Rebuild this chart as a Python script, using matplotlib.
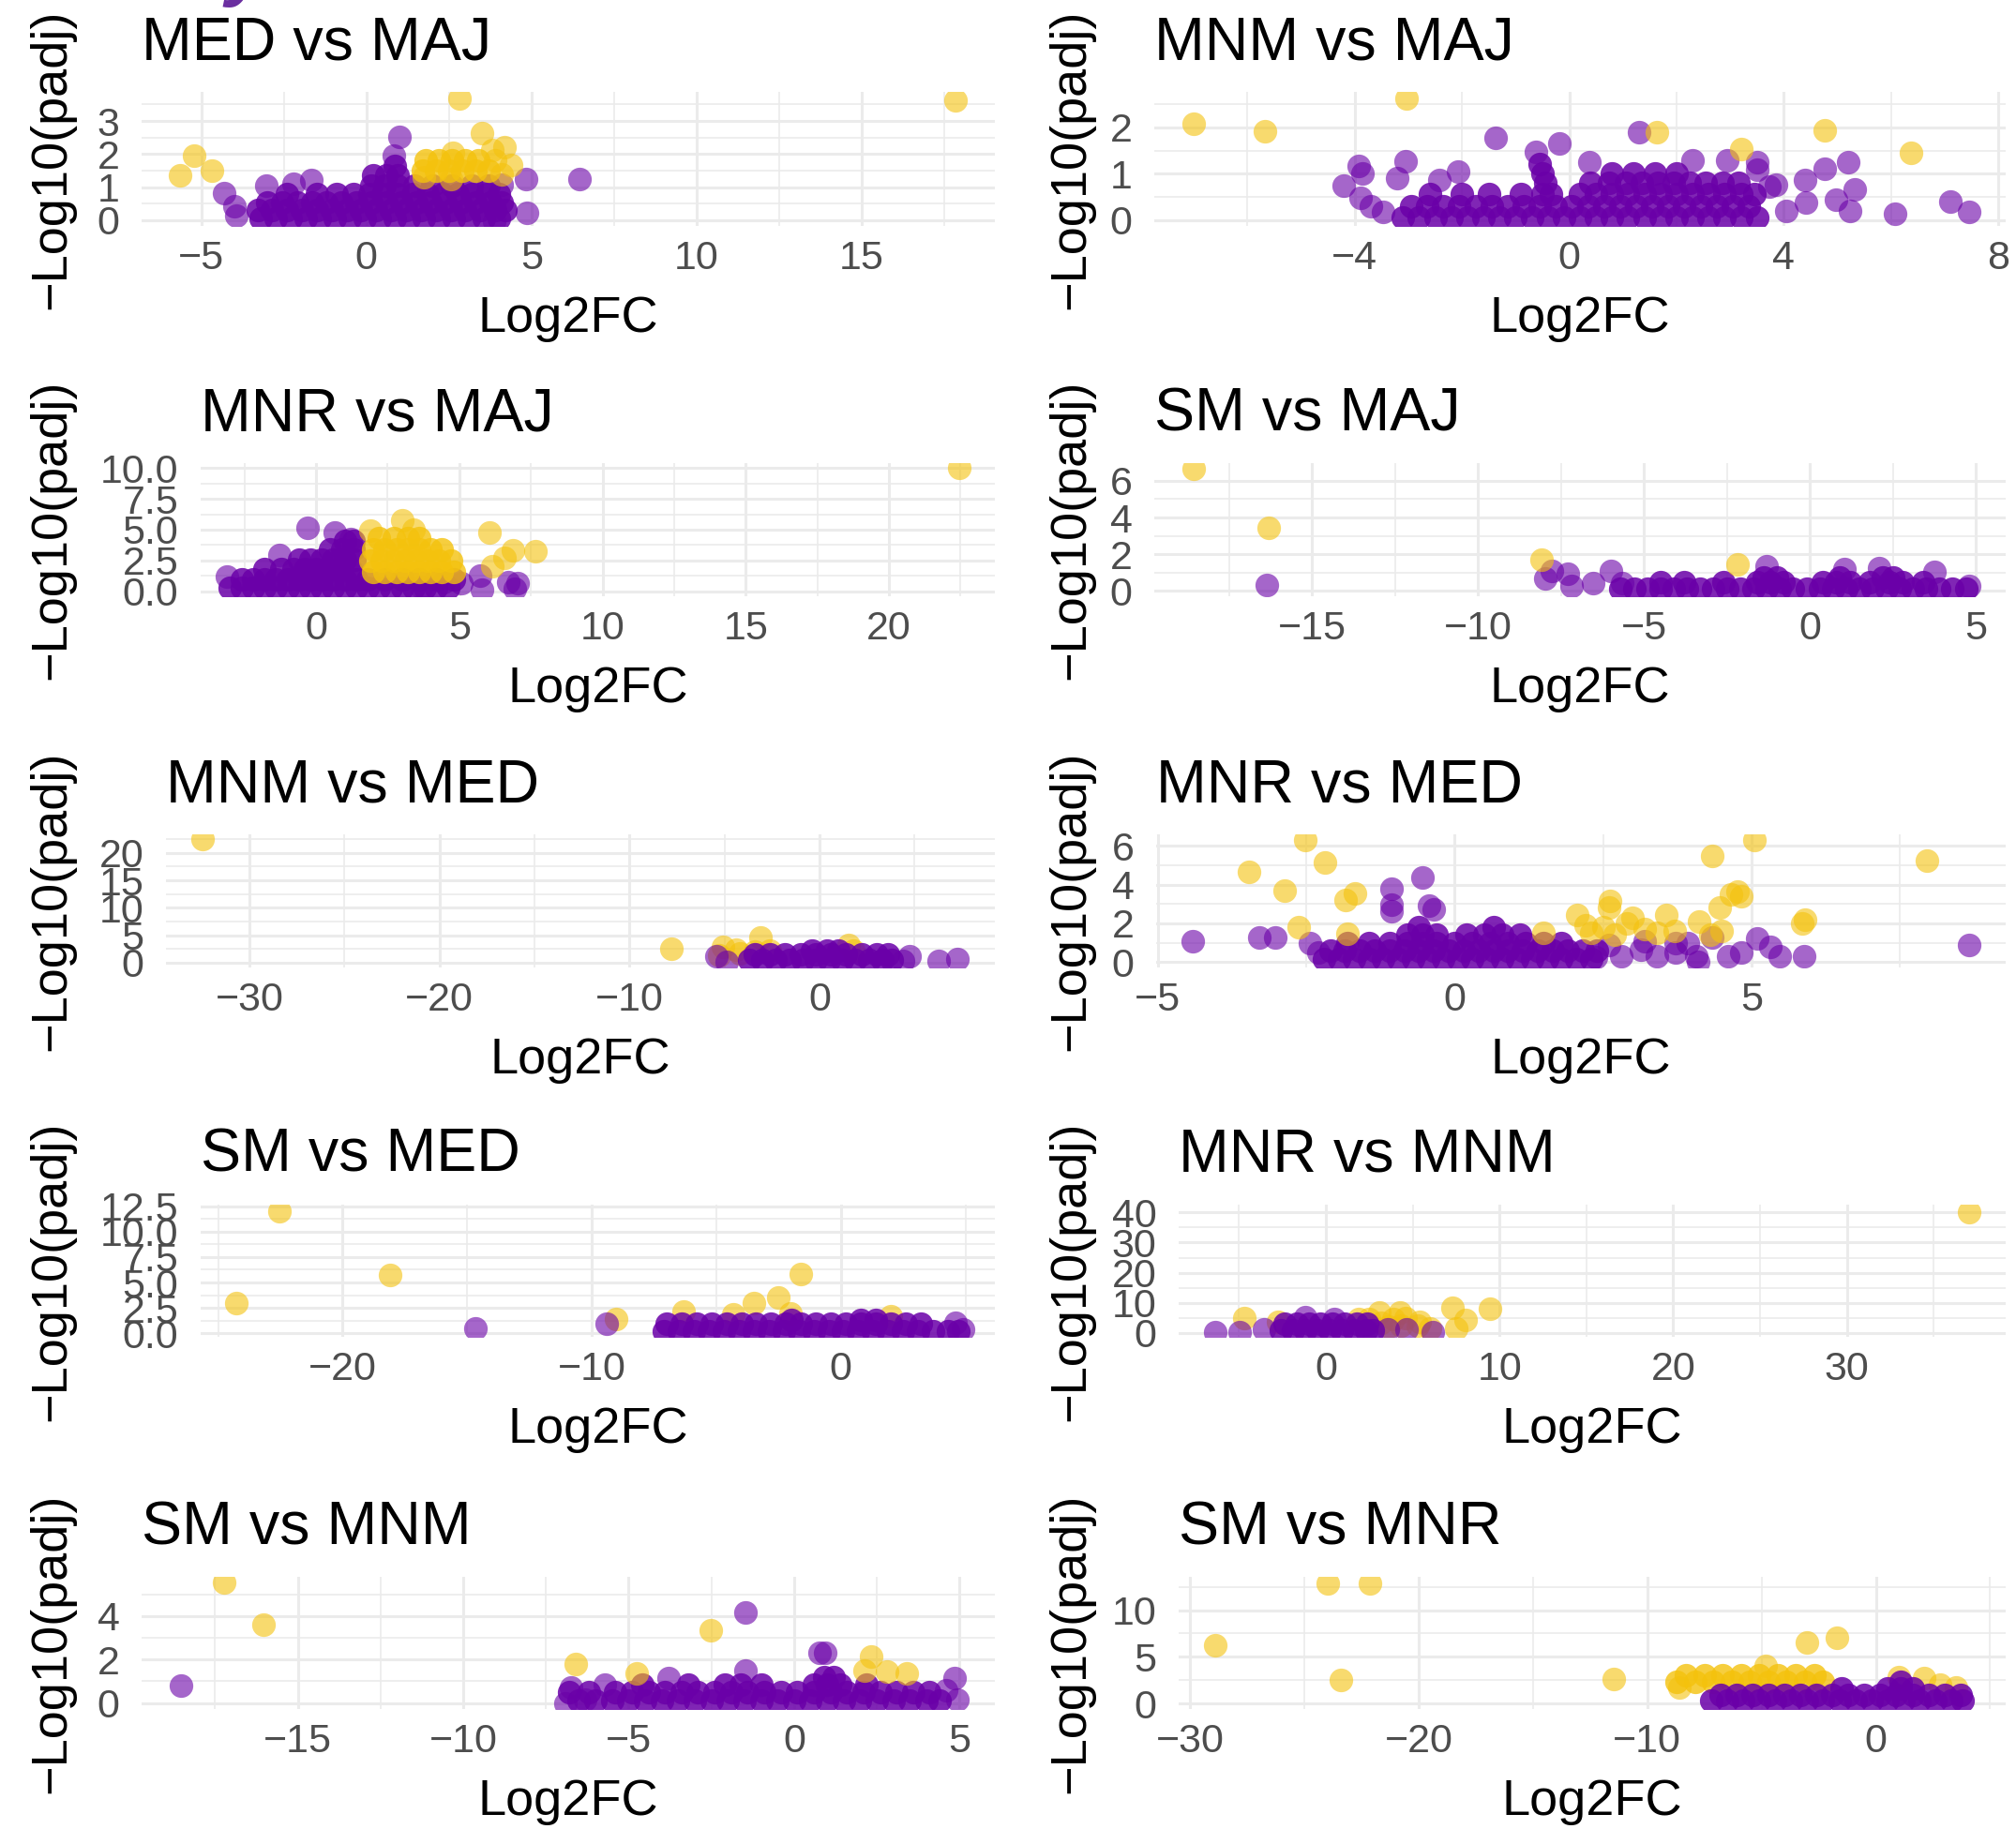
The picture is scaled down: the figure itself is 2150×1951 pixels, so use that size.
import matplotlib
matplotlib.use("Agg")
import matplotlib.pyplot as plt

plt.rcParams['font.family'] = ['Liberation Sans', 'DejaVu Sans']

# ---- data: (Log2FC, -Log10(padj)) ----
# dense clouds are given as rows {y: [x, ...]}, scattered genes as (x, y) pairs

# MED vs MAJ
med_maj_ns_rows = {
    0.05: [-3.2, -2.75, -2.3, -1.85, -1.4, -0.95, -0.5, -0.05, 0.4, 0.85, 1.3, 1.75, 2.2, 2.65, 3.1, 3.55, 4.0],
    0.3: [-3.3, -2.85, -2.4, -1.95, -1.5, -1.05, -0.6, -0.15, 0.3, 0.75, 1.2, 1.65, 2.1, 2.55, 3.0, 3.45, 3.9, 4.2],
    0.55: [-3.0, -2.55, -2.1, -1.65, -1.2, -0.75, -0.3, 0.15, 0.6, 1.05, 1.5, 1.95, 2.4, 2.85, 3.3, 3.75, 4.1],
    0.8: [-2.4, -1.5, -0.9, -0.4, 0.1, 0.5, 0.95, 1.4, 1.85, 2.3, 2.75, 3.2, 3.65, 4.0],
    1.05: [0.15, 0.55, 0.95, 1.45, 2.0, 2.6, 3.2, 3.7],
    1.35: [0.2, 0.6, 0.95],
    1.65: [0.85],
}
med_maj_ns_pts = [(1.01, 2.51), (0.82, 1.94), (6.47, 1.25), (4.87, 0.24), (4.83, 1.26), (4.1, 1.09),
                  (-4.32, 0.82), (-3.99, 0.43), (-3.95, 0.15), (-3.02, 1.04), (-2.2, 1.1), (-1.66, 1.23),
                  (3.88, -0.02)]
med_maj_sig_rows = {
    1.5: [1.7, 2.1, 2.5, 2.9, 3.3, 3.7],
    1.8: [1.8, 2.2, 2.6, 3.0, 3.4],
}
med_maj_sig_pts = [(2.82, 3.69), (17.86, 3.63), (3.5, 2.62), (-5.22, 1.94), (-5.65, 1.37), (-4.68, 1.51),
                   (4.18, 2.22), (3.8, 2.13), (4.38, 1.66), (2.62, 2.04), (3.9, 1.8), (4.1, 1.4),
                   (2.55, 1.25), (1.75, 1.3)]

# MNM vs MAJ
mnm_maj_ns_rows = {
    0.05: [-3.1, -2.8, -2.5, -2.2, -1.9, -1.6, -1.3, -1.0, -0.7, -0.4, -0.1, 0.2, 0.5, 0.8, 1.1, 1.4, 1.7,
           2.0, 2.3, 2.6, 2.9, 3.2, 3.5],
    0.3: [-2.95, -2.65, -2.35, -2.05, -1.75, -1.45, -1.15, -0.85, -0.55, -0.25, 0.05, 0.35, 0.65, 0.95,
          1.25, 1.55, 1.85, 2.15, 2.45, 2.75, 3.05, 3.35],
    0.55: [-2.6, -2.0, -1.5, -0.9, -0.5, -0.35, 0.2, 0.5, 0.8, 1.1, 1.4, 1.7, 2.0, 2.3, 2.6, 2.9, 3.2, 3.45],
    0.8: [-0.45, 0.4, 0.75, 1.05, 1.35, 1.65, 1.95, 2.25, 2.55, 2.85, 3.15],
    1.0: [-0.5, 0.8, 1.2, 1.6, 2.0],
    1.2: [-0.55],
}
mnm_maj_ns_pts = [(-1.38, 1.78), (-0.19, 1.66), (1.31, 1.89), (-0.63, 1.48), (-3.06, 1.26), (-3.93, 1.17),
                  (-3.85, 1.01), (-4.21, 0.74), (-3.9, 0.47), (-3.48, 0.17), (-3.21, 0.91), (-2.07, 1.04),
                  (-2.43, 0.87), (0.38, 1.25), (2.30, 1.28), (2.94, 1.28), (3.5, 1.25), (3.5, 1.08),
                  (3.86, 0.77), (4.4, 0.87), (4.76, 1.11), (5.21, 1.25), (5.33, 0.67), (4.98, 0.44),
                  (5.24, 0.2), (4.42, 0.37), (4.04, 0.2), (6.08, 0.13), (7.10, 0.40), (7.46, 0.17),
                  (3.74, 0.73), (-3.7, 0.3)]
mnm_maj_sig_rows = {}
mnm_maj_sig_pts = [(-7.01, 2.09), (-5.67, 1.92), (-3.03, 2.63), (1.64, 1.89), (3.2, 1.53), (4.76, 1.93),
                   (6.38, 1.45)]

# MNR vs MAJ
mnr_maj_ns_rows = {
    0.3: [-3.0, -2.6, -2.2, -1.8, -1.4, -1.0, -0.6, -0.2, 0.2, 0.6, 1.0, 1.4, 1.8, 2.2, 2.6, 3.0, 3.4, 3.8,
          4.2, 4.6],
    1.0: [-2.6, -2.2, -1.8, -1.4, -1.0, -0.6, -0.2, 0.2, 0.6, 1.0, 1.4, 1.8, 2.4, 3.0, 3.6, 4.2, 4.8],
    1.8: [-1.8, -1.2, -0.8, -0.4, 0.0, 0.4, 0.8, 1.2],
    2.6: [-0.6, -0.2, 0.2, 0.6, 1.0, 1.35],
    3.4: [0.5, 0.9, 1.3],
    4.1: [1.0, 1.3],
}
mnr_maj_ns_pts = [(-0.3, 5.13), (0.64, 4.74), (-1.27, 2.95), (1.2, 4.23), (5.72, 1.28), (5.07, 0.64),
                  (5.8, 0.13), (6.7, 0.77), (7.04, 0.64), (6.93, 0.23), (4.45, 0.77), (3.67, 0.33),
                  (-3.1, 1.2)]
mnr_maj_sig_rows = {
    1.6: [2.0, 2.4, 2.8, 3.2, 3.6, 4.0, 4.4, 4.8],
    2.5: [1.9, 2.3, 2.7, 3.1, 3.5, 3.9, 4.3, 4.7],
    3.4: [2.0, 2.4, 2.8, 3.2, 3.6, 4.0, 4.4],
    4.3: [2.2, 2.7, 3.2, 3.6],
}
mnr_maj_sig_pts = [(22.45, 10.0), (3.0, 5.77), (6.07, 4.74), (7.66, 3.28), (6.87, 3.33), (6.59, 2.69),
                   (6.14, 2.05), (1.9, 4.9), (3.4, 5.0)]

# SM vs MAJ
sm_maj_ns_rows = {
    0.1: [-5.7, -5.3, -4.9, -4.5, -4.1, -3.7, -3.3, -2.9, -2.5, -2.1, -1.7, -1.3, -0.9, -0.5, -0.1, 0.3,
          0.7, 1.1, 1.5, 1.9, 2.3, 2.7, 3.1, 3.5, 3.9, 4.3, 4.7],
    0.45: [-4.5, -3.8, -2.6, -1.6, -1.2, -0.8, 0.4, 0.8, 1.2, 1.8, 2.4, 2.8, 3.4],
    0.7: [-1.4, -1.0, 0.9, 2.2, 2.5],
}
sm_maj_ns_pts = [(-16.35, 0.29), (-7.96, 0.68), (-7.78, 1.1), (-7.3, 0.94), (-7.17, 0.26), (-6.53, 0.43),
                 (-5.99, 1.1), (-5.66, 0.43), (-1.3, 1.36), (1.03, 1.19), (2.09, 1.22), (3.74, 1.02),
                 (4.8, 0.26)]
sm_maj_sig_rows = {}
sm_maj_sig_pts = [(-18.57, 6.65), (-16.31, 3.44), (-8.08, 1.70), (-2.17, 1.45)]

# MNM vs MED
mnm_med_ns_rows = {
    0.5: [-3.7, -3.0, -2.3, -1.6, -0.9, -0.2, 0.5, 1.2, 1.9, 2.6, 3.3, 3.8],
    1.5: [-3.4, -2.6, -1.8, -1.0, -0.2, 0.6, 1.4, 2.2, 3.0, 3.6],
    2.2: [-0.4, 0.4, 1.0],
}
mnm_med_ns_pts = [(7.28, 0.58), (6.27, 0.29), (4.74, 1.14), (-5.41, 1.14), (-4.9, 0.1), (4.4, 0.3)]
mnm_med_sig_rows = {}
mnm_med_sig_pts = [(-32.46, 22.5), (-7.77, 2.56), (-3.1, 4.56), (-5.07, 2.85), (1.53, 3.14), (-4.2, 1.7),
                   (-4.4, 2.3), (-3.4, 2.0), (-2.6, 2.2), (1.8, 2.2), (-5.3, 1.3)]

# MNR vs MED
mnr_med_ns_rows = {
    0.15: [-2.2, -1.95, -1.7, -1.45, -1.2, -0.95, -0.7, -0.45, -0.2, 0.05, 0.3, 0.55, 0.8, 1.05, 1.3,
           1.55, 1.8, 2.05, 2.3],
    0.6: [-2.1, -1.85, -1.6, -1.35, -1.1, -0.85, -0.6, -0.35, -0.1, 0.15, 0.4, 0.65, 0.9, 1.15, 1.4, 1.65,
          1.9, 2.15, 2.4],
    1.0: [-1.8, -1.45, -1.1, -0.8, -0.55, -0.3, 0.0, 0.3, 0.6, 0.9, 1.2, 1.5, 1.8],
    1.4: [-0.8, -0.55, -0.3, 0.2, 0.5, 0.8, 1.1],
    1.8: [-0.6, 0.65],
}
mnr_med_ns_pts = [(-4.41, 1.1), (-3.3, 1.29), (-3.03, 1.29), (-2.44, 1.0), (-0.54, 4.35), (-1.06, 3.79),
                  (-1.06, 2.98), (-1.06, 2.61), (-0.43, 2.9), (-0.36, 2.7), (8.66, 0.89), (4.6, 0.32),
                  (4.82, 0.48), (5.09, 1.21), (5.31, 0.81), (5.47, 0.32), (5.89, 0.32), (4.33, 1.29),
                  (4.06, 0.32), (4.1, 0.0), (3.72, 0.48), (3.4, 0.32), (3.13, 0.64), (2.8, 0.32),
                  (2.37, 0.24), (3.72, 0.97), (3.93, 0.97), (2.6, 0.9), (3.2, 1.1), (-2.3, 0.5)]
mnr_med_sig_rows = {}
mnr_med_sig_pts = [(-2.52, 6.29), (5.04, 6.29), (7.96, 5.24), (4.33, 5.49), (-2.19, 5.16), (-3.46, 4.68),
                   (-2.87, 3.68), (-1.84, 3.23), (-1.68, 3.55), (4.77, 3.63), (4.82, 3.39), (4.65, 3.5),
                   (4.47, 2.82), (2.62, 3.14), (2.6, 2.82), (2.06, 2.42), (3.57, 2.42), (5.9, 2.18),
                   (5.85, 2.0), (-2.63, 1.78), (-1.81, 1.45), (4.49, 1.62), (4.12, 2.1), (2.2, 1.9),
                   (2.5, 1.8), (2.9, 2.0), (3.2, 1.7), (3.4, 1.5), (2.7, 1.4), (2.3, 1.5), (1.5, 1.5),
                   (3.0, 2.3), (3.7, 1.6), (4.3, 1.4)]

# SM vs MED
sm_med_ns_rows = {
    0.2: [-7.1, -6.5, -5.9, -5.3, -4.7, -4.1, -3.5, -2.9, -2.3, -1.7, -1.1, -0.5, 0.1, 0.7, 1.3, 1.9, 2.5,
          3.1, 3.7, 4.3, 4.7],
    0.9: [-7.0, -6.4, -5.8, -5.2, -4.6, -4.0, -3.4, -2.8, -2.2, -1.6, -1.0, -0.4, 0.2, 0.8, 1.4, 2.0, 2.6,
          3.2],
    1.3: [-2.0, 0.8, 1.4],
}
sm_med_ns_pts = [(-14.66, 0.46), (-9.42, 0.93), (4.6, 1.0), (4.9, 0.4)]
sm_med_sig_rows = {}
sm_med_sig_pts = [(-22.53, 12.04), (-18.09, 5.71), (-24.26, 3.0), (-1.63, 5.87), (-2.53, 3.55),
                  (-3.51, 2.94), (-9.03, 1.39), (-6.32, 2.17), (-4.34, 1.85), (-2.01, 2.0), (1.99, 1.7)]

# MNR vs MNM
mnr_mnm_ns_rows = {
    1.0: [-2.6, -1.9, -1.2, -0.5, 0.2, 0.9, 1.6, 2.3, 2.7],
    3.0: [-2.4, -1.7, -1.0, -0.3, 0.4, 1.1, 1.8, 2.4],
}
mnr_mnm_ns_pts = [(-6.38, 0.3), (-4.98, 0.2), (-3.57, 1.06), (-1.17, 5.2), (3.54, 1.06), (4.64, 1.06),
                  (6.13, 0.3), (0.5, 4.5)]
mnr_mnm_sig_rows = {}
mnr_mnm_sig_pts = [(37.04, 40.2), (9.46, 8.0), (7.31, 8.3), (8.05, 4.17), (7.5, 1.56), (-4.72, 4.89),
                   (3.06, 6.76), (4.28, 6.76), (5.39, 3.64), (1.87, 4.67), (-2.76, 3.64), (2.5, 4.5),
                   (3.2, 3.5), (3.9, 4.5), (4.6, 5.0), (5.3, 2.5), (3.6, 2.0), (4.3, 2.3), (6.0, 1.5)]

# SM vs MNM
sm_mnm_ns_rows = {
    0.1: [-6.5, -6.0, -5.5, -5.0, -4.5, -4.0, -3.5, -3.0, -2.5, -2.0, -1.5, -1.0, -0.5, 0.0, 0.5, 1.0, 1.5,
          2.0, 2.5, 3.0, 3.5, 4.0, 4.4],
    0.5: [-6.8, -6.2, -5.4, -4.9, -4.4, -3.9, -3.4, -2.9, -2.4, -1.9, -1.4, -0.9, -0.4, 0.1, 0.6, 1.1, 1.6,
          2.1, 2.6, 3.1, 3.6, 4.1],
    0.85: [-4.6, -3.2, -2.1, -1.6, -1.0, 0.6, 1.0, 1.4, 2.2],
    1.2: [0.9, 1.2],
}
sm_mnm_ns_pts = [(-18.52, 0.79), (-1.46, 4.14), (0.78, 2.29), (0.93, 2.29), (-1.46, 1.5), (4.86, 1.14),
                 (4.93, 0.14), (-6.9, 0.0), (-6.75, 0.72), (-6.32, 0.14), (-5.73, 0.86), (-3.79, 1.14),
                 (4.6, 0.6)]
sm_mnm_sig_rows = {}
sm_mnm_sig_pts = [(-17.24, 5.53), (-16.03, 3.6), (-2.53, 3.36), (-6.61, 1.79), (-4.76, 1.36), (2.33, 2.14),
                  (2.14, 1.5), (2.82, 1.43), (3.4, 1.36)]

# SM vs MNR
sm_mnr_ns_rows = {
    0.3: [-7.2, -6.5, -5.8, -5.1, -4.4, -3.7, -3.0, -2.3, -1.6, -0.9, -0.2, 0.5, 1.2, 1.9, 2.6, 3.3, 3.8],
    0.9: [-6.8, -6.1, -5.4, -4.7, -4.0, -3.3, -2.6, -1.9, -1.2, -0.5, 0.2, 0.9, 1.6, 2.3, 3.0, 3.7],
    1.6: [-1.5, 0.5, 1.1, 1.6],
    2.3: [1.1],
}
sm_mnr_ns_pts = []
sm_mnr_sig_rows = {
    2.3: [-8.7, -7.9, -7.1, -6.3, -5.5, -4.7, -3.9, -3.1, -2.3],
    3.0: [-8.3, -7.5, -6.7, -5.9, -5.1, -4.3, -3.5, -2.7],
}
sm_mnr_sig_pts = [(-28.9, 6.23), (-23.99, 12.9), (-22.13, 12.9), (-23.4, 2.5), (-11.47, 2.63), (-3.0, 6.56),
                  (-1.69, 7.0), (-4.84, 4.06), (2.11, 2.73), (-8.6, 1.7), (1.0, 2.8), (2.8, 2.0), (3.5, 1.7)]

titles = ["MED vs MAJ", "MNM vs MAJ", "MNR vs MAJ", "SM vs MAJ", "MNM vs MED",
          "MNR vs MED", "SM vs MED", "MNR vs MNM", "SM vs MNM", "SM vs MNR"]

x_ticks = [[-5, 0, 5, 10, 15], [-4, 0, 4, 8], [0, 5, 10, 15, 20], [-15, -10, -5, 0, 5], [-30, -20, -10, 0],
           [-5, 0, 5], [-20, -10, 0], [0, 10, 20, 30], [-15, -10, -5, 0, 5], [-30, -20, -10, 0]]
y_ticks = [[0, 1, 2, 3], [0, 1, 2], [0, 2.5, 5, 7.5, 10], [0, 2, 4, 6], [0, 5, 10, 15, 20],
           [0, 2, 4, 6], [0, 2.5, 5, 7.5, 10, 12.5], [0, 10, 20, 30, 40], [0, 2, 4], [0, 5, 10]]

panels = [
    (med_maj_ns_rows, med_maj_ns_pts, med_maj_sig_rows, med_maj_sig_pts),
    (mnm_maj_ns_rows, mnm_maj_ns_pts, mnm_maj_sig_rows, mnm_maj_sig_pts),
    (mnr_maj_ns_rows, mnr_maj_ns_pts, mnr_maj_sig_rows, mnr_maj_sig_pts),
    (sm_maj_ns_rows, sm_maj_ns_pts, sm_maj_sig_rows, sm_maj_sig_pts),
    (mnm_med_ns_rows, mnm_med_ns_pts, mnm_med_sig_rows, mnm_med_sig_pts),
    (mnr_med_ns_rows, mnr_med_ns_pts, mnr_med_sig_rows, mnr_med_sig_pts),
    (sm_med_ns_rows, sm_med_ns_pts, sm_med_sig_rows, sm_med_sig_pts),
    (mnr_mnm_ns_rows, mnr_mnm_ns_pts, mnr_mnm_sig_rows, mnr_mnm_sig_pts),
    (sm_mnm_ns_rows, sm_mnm_ns_pts, sm_mnm_sig_rows, sm_mnm_sig_pts),
    (sm_mnr_ns_rows, sm_mnr_ns_pts, sm_mnr_sig_rows, sm_mnr_sig_pts),
]

# ---- layout (pixels in a 2150x1951 canvas) ----
W, H = 2150, 1951
boxes = [(151, 98, 1061, 241), (1231, 98, 2139, 241),
         (214, 494, 1061, 636), (1231, 494, 2139, 636),
         (177, 890, 1061, 1032), (1233, 890, 2139, 1032),
         (214, 1285, 1061, 1426), (1257, 1285, 2139, 1426),
         (151, 1682, 1061, 1823), (1257, 1682, 2139, 1823)]
xlims = [(-6.81, 19.04), (-7.74, 8.14), (-4.03, 23.70), (-19.75, 5.90), (-34.39, 9.23),
         (-5.03, 9.28), (-25.7, 6.18), (-8.48, 39.15), (-19.72, 6.07), (-30.5, 5.68)]
ylims = [(-0.17, 3.88), (-0.13, 2.77), (-0.4, 10.4), (-0.3, 6.97), (-0.9, 23.4),
         (-0.28, 6.6), (-0.35, 12.66), (-1.3, 42.6), (-0.28, 5.8), (-0.57, 13.56)]
sig_on_top = [True, True, True, True, False, True, False, False, True, False]

PURPLE = '#6A00A8'
YELLOW = '#F4C20D'
GRID = '#EBEBEB'
PT = 72 / 100  # points per pixel at dpi 100
SIZE = 330


def split(rows, pts):
    # dense rows stand for many overlapping genes -> drawn nearly opaque
    rx = [x for y, row in rows.items() for x in row]
    ry = [y for y, row in rows.items() for x in row]
    return (rx, ry), ([p[0] for p in pts], [p[1] for p in pts])


def minor_between(ticks, lo, hi):
    step = ticks[1] - ticks[0]
    cand = [ticks[0] - step / 2] + [t + step / 2 for t in ticks]
    return [c for c in cand if lo <= c <= hi]


def fmt(t, decimal):
    s = f"{t:.1f}" if decimal else f"{int(round(t))}"
    return s.replace('-', '\u2212')


fig = plt.figure(figsize=(W / 100, H / 100), dpi=100)
fig.patch.set_facecolor('white')

for i, (ns_rows, ns_pts, sig_rows, sig_pts) in enumerate(panels):
    l, t, r, b = boxes[i]
    ax = fig.add_axes([l / W, 1 - b / H, (r - l) / W, (b - t) / H])
    for s in ax.spines.values():
        s.set_visible(False)
    ax.set_axisbelow(True)

    z_ns, z_sig = (2, 4) if sig_on_top[i] else (4, 2)
    (nrx, nry), (npx, npy) = split(ns_rows, ns_pts)
    (srx, sry), (spx, spy) = split(sig_rows, sig_pts)
    ax.scatter(npx, npy, s=SIZE, color=PURPLE, alpha=0.6, linewidths=0, zorder=z_ns)
    ax.scatter(nrx, nry, s=SIZE, color=PURPLE, alpha=0.85, linewidths=0, zorder=z_ns + 0.5)
    ax.scatter(spx, spy, s=SIZE, color=YELLOW, alpha=0.6, linewidths=0, zorder=z_sig)
    ax.scatter(srx, sry, s=SIZE, color=YELLOW, alpha=0.8, linewidths=0, zorder=z_sig + 0.5)

    ax.set_xlim(*xlims[i])
    ax.set_ylim(*ylims[i])
    ax.set_xticks(x_ticks[i])
    ax.set_xticklabels([fmt(v, False) for v in x_ticks[i]])
    dec = any(v != int(v) for v in y_ticks[i])
    ax.set_yticks(y_ticks[i])
    ax.set_yticklabels([fmt(v, dec) for v in y_ticks[i]])
    ax.set_xticks(minor_between(x_ticks[i], *xlims[i]), minor=True)
    ax.set_yticks(minor_between(y_ticks[i], *ylims[i]), minor=True)
    ax.grid(which='major', color=GRID, linewidth=2.2)
    ax.grid(which='minor', color=GRID, linewidth=1.2)
    ax.tick_params(which='both', length=0)
    ax.tick_params(axis='x', pad=11, labelsize=31, labelcolor='#4D4D4D')
    ax.tick_params(axis='y', pad=17, labelsize=31, labelcolor='#4D4D4D')

    ax.set_title(titles[i], loc='left', fontsize=46.5, pad=35 * PT, color='black')
    ax.annotate('Log2FC', xy=(0.5, 0), xycoords='axes fraction',
                xytext=(0, -113 * PT), textcoords='offset points',
                ha='center', va='baseline', fontsize=39, color='black')
    ylab_x = 55 if l < 1000 else 1142
    fig.text(ylab_x / W, 1 - (t + b) / 2 / H, '\u2212Log10(padj)', rotation=90,
             ha='center', va='center', fontsize=39, color='black')

# purple glyph fragment cut off at the top edge
fig.text(264 / W, 1 + 9 / H, 'y', fontsize=60, color='#6B2FA0', fontweight='bold',
         fontstyle='italic', ha='center', va='baseline')

fig.savefig('out.png', dpi=100, facecolor='white')
